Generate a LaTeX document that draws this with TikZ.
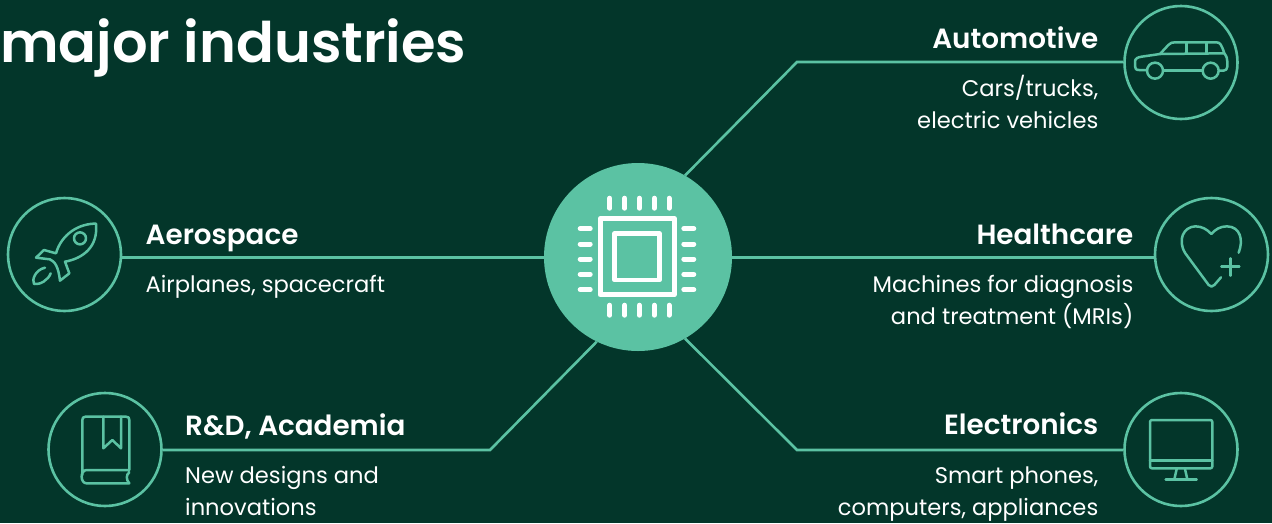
\documentclass[tikz,border=0pt]{standalone}
\usepackage{fontspec}
\setmainfont[BoldFont={Poppins SemiBold}]{Poppins}
\definecolor{bgc}{HTML}{03362A}
\definecolor{acc}{HTML}{5BC2A3}
\tikzset{
  hubc/.style={circle,fill=acc,minimum size=188pt,inner sep=0pt},
  ring/.style={circle,draw=acc,line width=2.6pt,minimum size=113pt,inner sep=0pt},
  conn/.style={draw=acc,line width=2.6pt,line join=miter},
  icon/.style={draw=acc,line width=2.5pt,line cap=round,line join=round,fill=none},
  chip/.style={draw=white,line width=5pt,line join=round,fill=none},
  pin/.style={draw=white,line width=5pt,line cap=round},
  head/.style={inner sep=0pt,text=white,font=\fontsize{27.8}{32}\selectfont\bfseries},
  body/.style={inner sep=0pt,text=white,font=\fontsize{22.6}{31.5}\selectfont},
  zoomed/.style={x=0.33333pt,y=-0.33333pt}
}
\begin{document}
\begin{tikzpicture}[x=1pt,y=-1pt]
\useasboundingbox[fill=bgc] (0,0) rectangle (1272,523);
\node[hubc] (hub) at (638,257) {};
\node[ring] (auto) at (1181,62.5) {};
\node[ring] (heal) at (1211.5,254.5) {};
\node[ring] (elec) at (1181,449.5) {};
\node[ring] (aero) at (64.5,254.5) {};
\node[ring] (rnd) at (105,449.5) {};
\coordinate (kA) at (797,62);
\coordinate (kE) at (797,450);
\coordinate (kR) at (490,450);
\path[conn] (hub.60) -- (kA) -- (auto.west |- kA);
\path[conn] (hub.-60) -- (kE) -- (elec.west |- kE);
\path[conn] (hub.244) -- (kR) -- (rnd.east |- kR);
\path[conn] (aero.east |- 0,257.5) -- (hub.west |- 0,257.5);
\path[conn] (hub.east |- 0,257.5) -- (heal.west |- 0,257.5);
% chip
\draw[chip] (600.2,218.5) rectangle (674.2,294.8);
\draw[chip,line width=4.6pt] (614.6,233.3) rectangle (659.4,280);
\foreach \x in {609.7,624.7,639.3,654.3,669}{
  \draw[pin] (\x,198.2) -- (\x,208.2);
  \draw[pin] (\x,305.2) -- (\x,315.2);
}
\foreach \y in {228.7,244,259,274.3,289.7}{
  \draw[pin] (580.2,\y) -- (590.2,\y);
  \draw[pin] (683.8,\y) -- (693.8,\y);
}
% rocket
\begin{scope}[shift={(0,190)},zoomed]
\draw[icon] (288,101) .. controls (240,100) and (185,130) .. (168,190) -- (132,180) -- (108,203) -- (150,208)
  .. controls (165,215) and (175,230) .. (180,272) -- (208,250) -- (195,215)
  .. controls (250,205) and (295,170) .. (288,101) -- cycle;
\draw[icon] (240,145) circle[radius=18];
\draw[icon] (135,233) .. controls (105,240) and (95,270) .. (102,282) .. controls (120,285) and (145,270) .. (152,250);
\end{scope}
% book
\begin{scope}[shift={(40,385)},zoomed]
\draw[icon] (127,270) -- (127,105) .. controls (127,98) and (130,95) .. (137,95) -- (258,95) .. controls (265,95) and (268,98) .. (268,105) -- (268,255) -- (140,255)
  .. controls (120,255) and (120,295) .. (140,295) -- (268,295) .. controls (258,285) and (258,268) .. (268,262);
\draw[icon] (190,95) -- (190,190) -- (217,165) -- (243,190) -- (243,95);
\end{scope}
% car
\begin{scope}[shift={(1115,0)},zoomed]
\draw[icon] (96,210) -- (72,210) .. controls (62,210) and (60,205) .. (60,197) -- (60,185) .. controls (60,175) and (68,172) .. (80,170) -- (135,162)
  -- (160,135) .. controls (166,128) and (172,127) .. (180,127) -- (305,127) .. controls (315,127) and (320,135) .. (328,160) .. controls (335,170) and (337,175) .. (337,185) -- (337,200) .. controls (337,208) and (332,212) .. (325,212) -- (312,212);
\draw[icon] (148,212) -- (260,212);
\draw[icon] (135,162) -- (328,160);
\draw[icon] (215,127) -- (215,160);
\draw[icon] (275,127) -- (275,160);
\draw[icon] (120,212) circle[radius=24];
\draw[icon] (287,212) circle[radius=24];
\end{scope}
% heart
\begin{scope}[shift={(1142,190)},zoomed]
\draw[icon] (290,188) .. controls (305,150) and (295,110) .. (255,109) .. controls (235,109) and (220,118) .. (208,132)
  .. controls (195,118) and (180,109) .. (160,109) .. controls (125,110) and (105,150) .. (130,190) -- (200,285) .. controls (205,291) and (212,291) .. (217,285) -- (237,262);
\draw[icon] (238,230) -- (292,230);
\draw[icon] (265,205) -- (265,257);
\end{scope}
% monitor
\begin{scope}[shift={(1115,385)},zoomed]
\draw[icon,rounded corners=2pt] (105,105) rectangle (292,250);
\draw[icon] (105,227) -- (292,227);
\draw[icon] (185,252) -- (178,283);
\draw[icon] (210,252) -- (217,283);
\draw[icon] (152,283) -- (245,283);
\end{scope}
% text
\node[anchor=base west,inner sep=0pt,text=white,font=\fontsize{55.9}{60}\selectfont\bfseries] (title) at (0,62.5) {major industries};
\node[head,anchor=base east] (tA) at (1098.5,48) {Automotive};
\node[body,anchor=base east,align=right] (bA) at (1098.5,128) {Cars/trucks,\\electric vehicles};
\node[head,anchor=base west] (tB) at (145.5,244) {Aerospace};
\node[body,anchor=base west,align=left] (bB) at (145.5,292) {Airplanes, spacecraft};
\node[head,anchor=base east] (tC) at (1133.5,244) {Healthcare};
\node[body,anchor=base east,align=right] (bC) at (1133.5,324) {Machines for diagnosis\\and treatment (MRIs)};
\node[head,anchor=base west] (tD) at (185,435) {R\&D, Academia};
\node[body,anchor=base west,align=left] (bD) at (185,515) {New designs and\\innovations};
\node[head,anchor=base east] (tE) at (1098.5,434) {Electronics};
\node[body,anchor=base east,align=right] (bE) at (1098.5,515) {Smart phones,\\computers, appliances};
\end{tikzpicture}
\end{document}
